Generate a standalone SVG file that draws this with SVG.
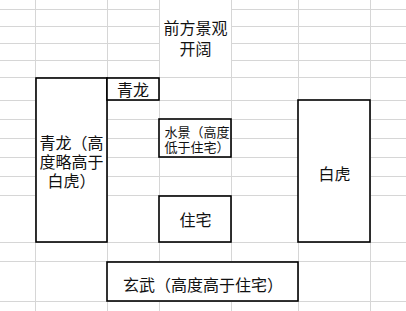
<svg xmlns="http://www.w3.org/2000/svg" width="406" height="311" viewBox="0 0 406 311">
<style>
.grid line{stroke:#d6d6d6;stroke-width:1}
.box{fill:#fff;stroke:#000;stroke-width:1.6}
text{font-family:"Noto Sans CJK SC","Noto Sans",sans-serif;fill:#111;font-size:16px;text-anchor:middle}
.sm{font-size:13px;text-anchor:start}
</style>
<rect width="406" height="311" fill="#fff"/>
<g id="grid" class="grid">
<line x1="0" y1="9.5" x2="406" y2="9.5"/>
<line x1="0" y1="26.5" x2="406" y2="26.5"/>
<line x1="0" y1="43.5" x2="406" y2="43.5"/>
<line x1="0" y1="60.5" x2="406" y2="60.5"/>
<line x1="0" y1="77.5" x2="406" y2="77.5"/>
<line x1="0" y1="100.5" x2="406" y2="100.5"/>
<line x1="0" y1="119.5" x2="406" y2="119.5"/>
<line x1="0" y1="138.5" x2="406" y2="138.5"/>
<line x1="0" y1="157.5" x2="406" y2="157.5"/>
<line x1="0" y1="176.5" x2="406" y2="176.5"/>
<line x1="0" y1="195.5" x2="406" y2="195.5"/>
<line x1="0" y1="242.5" x2="406" y2="242.5"/>
<line x1="0" y1="261.5" x2="406" y2="261.5"/>
<line x1="0" y1="301.5" x2="406" y2="301.5"/>
<line x1="35.5" y1="0" x2="35.5" y2="311"/>
<line x1="107.5" y1="0" x2="107.5" y2="311"/>
<line x1="159.5" y1="0" x2="159.5" y2="311"/>
<line x1="231.5" y1="0" x2="231.5" y2="311"/>
<line x1="298.5" y1="0" x2="298.5" y2="311"/>
<line x1="370.5" y1="0" x2="370.5" y2="311"/>
</g>
<g id="front">
<rect x="160" y="0" width="71" height="77" fill="#fff"/>
<text x="195.5" y="34">前方景观<tspan x="195.5" dy="21">开阔</tspan></text>
</g>
<g id="qinglong-tall">
<rect class="box" x="36" y="78" width="71" height="164"/>
<text x="71.5" y="149">青龙（高<tspan x="71.5" dy="19">度略高于</tspan><tspan x="71.5" dy="19">白虎）</tspan></text>
</g>
<g id="qinglong">
<rect class="box" x="107" y="78" width="52" height="22"/>
<text x="133" y="96">青龙</text>
</g>
<g id="shuijing">
<rect class="box" x="159" y="119" width="72" height="38"/>
<text class="sm" x="164.5" y="137">水景（高度<tspan x="164.5" dy="15">低于住宅）</tspan></text>
</g>
<g id="zhuzhai">
<rect class="box" x="159" y="196" width="72" height="46"/>
<text x="195.5" y="226">住宅</text>
</g>
<g id="baihu">
<rect class="box" x="298" y="100" width="72" height="142"/>
<text x="334.5" y="180">白虎</text>
</g>
<g id="xuanwu">
<rect class="box" x="107" y="262" width="191" height="39"/>
<text x="203" y="291">玄武（高度高于住宅）</text>
</g>
<g id="connectors"/>
</svg>
